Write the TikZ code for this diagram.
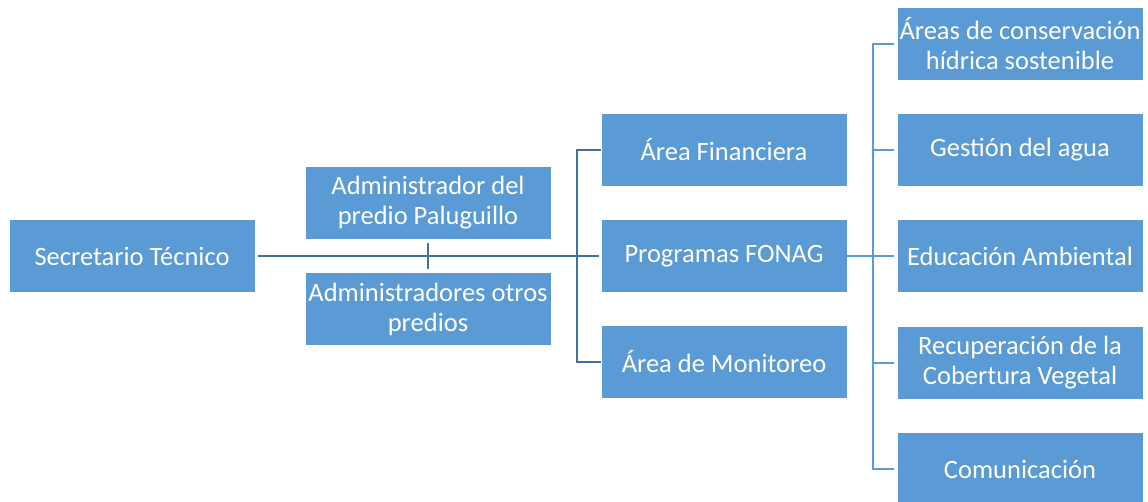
\documentclass[tikz,border=0pt]{standalone}
\usepackage{fontspec}
\setmainfont{Carlito}
\definecolor{boxblue}{HTML}{5B9BD5}
\definecolor{linedark}{HTML}{41719C}
\begin{document}
\begin{tikzpicture}[
        x=1pt, y=-1pt,
        unit/.style={rectangle, fill=boxblue, text=white, minimum width=245pt, minimum height=72pt, align=center, inner sep=0pt, font=\fontsize{26.5}{30}\selectfont},
        trunk/.style={draw=linedark, line width=2.6pt},
        branch/.style={draw=linedark, line width=1.8pt},
        bracket/.style={draw=boxblue, line width=2.2pt}
    ]

        \clip (0,0) rectangle (1148,501);

        % Left side: secretary and the two administrators
        \node[unit] (sec) at (132,256) {Secretario Técnico};
        \node[unit] (adm1) at (428,203) {Administrador del\\predio Paluguillo};
        \node[unit] (adm2) at (428,309) {Administradores otros\\predios};

        % Middle column
        \node[unit] (fin) at (724,150) {Área Financiera};
        \node[unit] (prog) at (724,256) {Programas FONAG};
        \node[unit] (mon) at (724,362) {Área de Monitoreo};

        % Right column: programs
        \node[unit] (cons) at (1020,44) {Áreas de conservación\\hídrica sostenible};
        \node[unit] (agua) at (1020,150) {Gestión del agua};
        \node[unit] (edu) at (1020,256) {Educación Ambiental};
        \node[unit] (recup) at (1020,363) {Recuperación de la\\Cobertura Vegetal};
        \node[unit] (com) at (1020,469) {Comunicación};

        % Trunk from the secretary
        \coordinate (lsplit) at (577,256);
        \draw[trunk] ([xshift=3pt]sec.east) -- ([xshift=-2pt]prog.west);
        \draw[branch] ([yshift=-4pt]adm1.south) -- ([yshift=4pt]adm2.north);
        \draw[branch] (fin.west) -- (lsplit |- fin.west) -- (lsplit |- mon.west) -- (mon.west);

        % Bracket to the programs
        \coordinate (rsplit) at (873,256);
        \draw[bracket] (prog.east) -- (rsplit);
        \draw[bracket] ([xshift=-3pt]cons.west) -- (rsplit |- cons.west) -- (rsplit |- com.west) -- ([xshift=-3pt]com.west);
        \draw[bracket] (rsplit |- agua.west) -- ([xshift=-3pt]agua.west);
        \draw[bracket] (rsplit |- edu.west) -- ([xshift=-3pt]edu.west);
        \draw[bracket] (rsplit |- recup.west) -- ([xshift=-3pt]recup.west);

    \end{tikzpicture}
\end{document}
